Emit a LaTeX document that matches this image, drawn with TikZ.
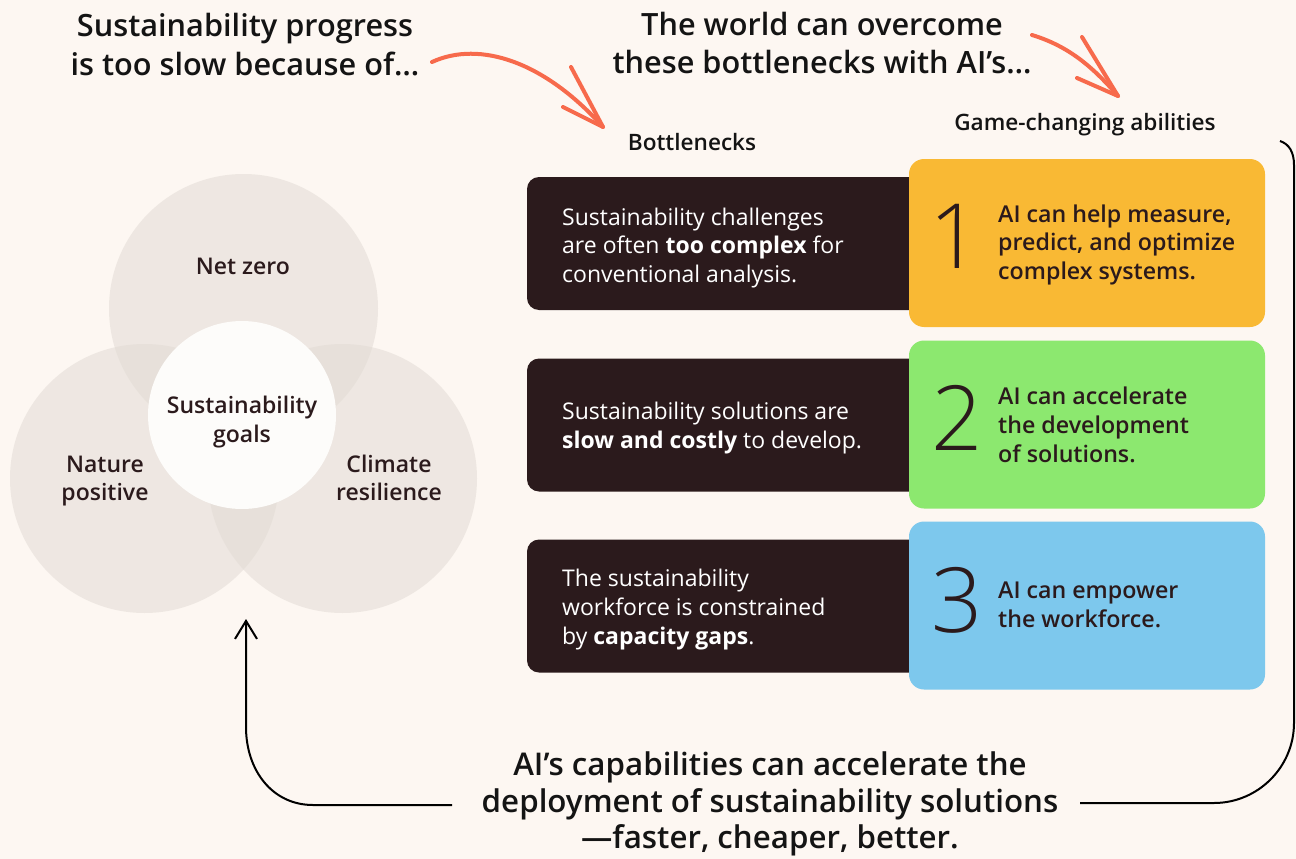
\documentclass[tikz,border=0pt]{standalone}
\usepackage{fontspec}
\setmainfont{Open Sans}
\newfontfamily\semifont{Open Sans Semibold}
\newfontfamily\lightfont{Open Sans Light}
\usetikzlibrary{arrows.meta}

\definecolor{bgcream}{HTML}{FDF7F2}
\definecolor{ink}{HTML}{141414}
\definecolor{cocoa}{HTML}{2B1A1C}
\definecolor{ring}{HTML}{E2DBD5}
\definecolor{hub}{HTML}{FDFCFA}
\definecolor{coral}{HTML}{F76A4C}
\definecolor{ylw}{HTML}{F9B934}
\definecolor{grn}{HTML}{8CE86F}
\definecolor{sky}{HTML}{7DC8ED}

\tikzset{
  txt/.style={inner sep=0pt, anchor=base},
  title/.style={txt, font=\semifont\fontsize{30.7}{36}\selectfont, text=ink},
  closing/.style={txt, font=\semifont\fontsize{31.3}{36}\selectfont, text=ink},
  colhead/.style={txt, font=\semifont\fontsize{22.6}{26}\selectfont, text=ink},
  venn/.style={txt, font=\semifont\fontsize{23}{26}\selectfont, text=cocoa},
  darkline/.style={txt, anchor=base west, font=\fontsize{23}{26}\selectfont, text=white},
  abil/.style={txt, anchor=base west, font=\semifont\fontsize{23.2}{26}\selectfont, text=cocoa},
  num/.style={txt, font=\lightfont\fontsize{90}{90}\selectfont, text=cocoa},
  goal/.style={circle, inner sep=0pt, minimum size=269pt, fill=ring, fill opacity=0.55},
  hubcircle/.style={circle, inner sep=0pt, minimum size=188pt, fill=hub},
  darkcard/.style={rectangle, inner sep=0pt, rounded corners=12pt, fill=cocoa,
                   minimum width=403pt, minimum height=133pt},
  colcard/.style={rectangle, inner sep=0pt, rounded corners=15pt,
                  minimum width=356pt, minimum height=168pt},
  brush/.style={draw=coral, line width=4pt, line cap=round, line join=round},
  loopline/.style={draw=black, line width=2pt},
}

\begin{document}
\begin{tikzpicture}[x=1pt, y=-1pt]
\useasboundingbox (0,0) rectangle (1296,859);
\fill[bgcream] (0,0) rectangle (1296,859);

% headings
\node[title] (t1a) at (245,37) {Sustainability progress};
\node[title] (t1b) at (245,75) {is too slow because of…};
\node[title] (t2a) at (822,36) {The world can overcome};
\node[title] (t2b) at (822,74) {these bottlenecks with AI’s…};

\node[colhead] (hbot) at (692,150) {Bottlenecks};
\node[colhead] (hgame) at (1085,130) {Game-changing abilities};

% goal circles
\node[goal] (cnz) at (243.5,308.5) {};
\node[goal] (cnp) at (144.5,478.5) {};
\node[goal] (ccr) at (342.5,478.5) {};
\node[hubcircle] (chub) at (242,415) {};

\node[venn] (lnz) at (243,274) {Net zero};
\node[venn] (lsg1) at (242,413) {Sustainability};
\node[venn] (lsg2) at (242,442) {goals};
\node[venn] (lnp1) at (105,472) {Nature};
\node[venn] (lnp2) at (105,500) {positive};
\node[venn] (lcr1) at (389,472) {Climate};
\node[venn] (lcr2) at (389,500) {resilience};

% bottleneck cards
\node[darkcard] (d1) at (728.5,243.5) {};
\node[darkcard] (d2) at (728.5,425) {};
\node[darkcard] (d3) at (728.5,606) {};

\node[darkline] (d1a) at (562,225) {Sustainability challenges};
\node[darkline] (d1b) at (562,253) {are often \textbf{too complex} for};
\node[darkline] (d1c) at (562,282) {conventional analysis.};
\node[darkline] (d2a) at (562,419) {Sustainability solutions are};
\node[darkline] (d2b) at (562,448) {\textbf{slow and costly} to develop.};
\node[darkline] (d3a) at (562,586) {The sustainability};
\node[darkline] (d3b) at (562,615) {workforce is constrained};
\node[darkline] (d3c) at (562,644) {by \textbf{capacity gaps}.};

% ability cards
\node[colcard, fill=ylw] (a1) at (1087,243) {};
\node[colcard, fill=grn] (a2) at (1087,424.5) {};
\node[colcard, fill=sky] (a3) at (1087,605.5) {};

\node[num] (n1) at (955,268) {1};
\node[num] (n2) at (957,450) {2};
\node[num] (n3) at (957,632) {3};

\node[abil] (a1a) at (998,222) {AI can help measure,};
\node[abil] (a1b) at (998,250) {predict, and optimize};
\node[abil] (a1c) at (998,279) {complex systems.};
\node[abil] (a2a) at (998,404) {AI can accelerate};
\node[abil] (a2b) at (998,433) {the development};
\node[abil] (a2c) at (998,462) {of solutions.};
\node[abil] (a3a) at (998,598) {AI can empower};
\node[abil] (a3b) at (998,627) {the workforce.};

% closing statement
\node[closing] (s1) at (770,775) {AI’s capabilities can accelerate the};
\node[closing] (s2) at (770,812) {deployment of sustainability solutions};
\node[closing] (s3) at (770,848) {—faster, cheaper, better.};

% hand-drawn arrows
\coordinate (r1s) at (432,62);
\coordinate (r1t) at (603,127);
\draw[brush] (r1s) .. controls (480,40) and (545,62) .. (r1t);
\draw[brush] (571,67) -- (r1t) -- (563,107);

\coordinate (r2s) at (1032,35);
\coordinate (r2t) at (1118,96);
\draw[brush] (r2s) .. controls (1068,46) and (1092,66) .. (r2t);
\draw[brush] (1082,37) -- (r2t) -- (1077,78);

% feedback loop
\coordinate (lr) at (1080,803);
\coordinate (ltop) at (1280,141);
\draw[loopline] (lr) -- (1214,803) .. controls (1258,803) and (1294,767) .. (1294,723)
  -- (1294,165) .. controls (1294,152) and (1289,144) .. (ltop);

\coordinate (ll) at (452,805);
\coordinate (lup) at (246,619);
\draw[loopline, -{Straight Barb[length=18pt, width=22pt]}] (ll) -- (313,805)
  .. controls (272,805) and (246,770) .. (246,727) -- (lup);
\end{tikzpicture}
\end{document}
